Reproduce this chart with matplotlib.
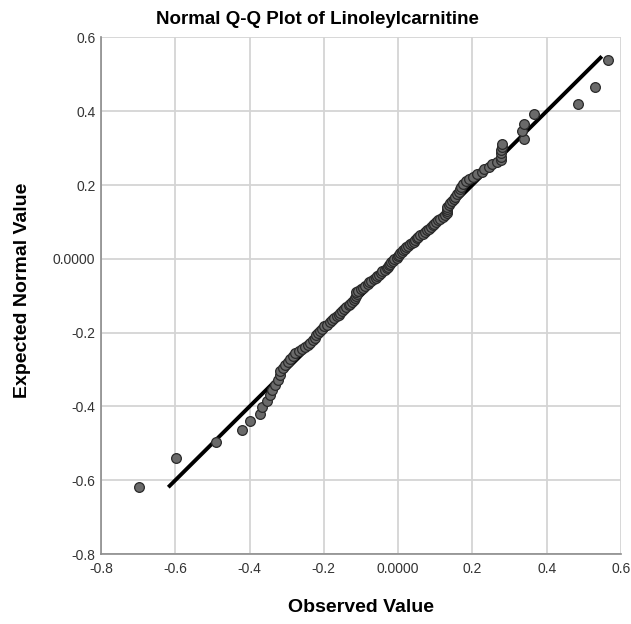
import matplotlib
matplotlib.use('Agg')
import matplotlib.pyplot as plt
import numpy as np

plt.rcParams.update({
    'font.family': ['Liberation Sans', 'DejaVu Sans'],
    'font.size': 10,
})

observed = [
    -0.697, -0.597, -0.489, -0.419, -0.398, -0.371, -0.367, -0.352, -0.346, -0.340,
    -0.331, -0.322, -0.318, -0.317, -0.309, -0.304, -0.296, -0.290, -0.283, -0.277,
    -0.268, -0.260, -0.250, -0.243, -0.236, -0.229, -0.223, -0.220, -0.215, -0.210,
    -0.205, -0.199, -0.192, -0.183, -0.178, -0.172, -0.165, -0.160, -0.156, -0.150,
    -0.146, -0.140, -0.133, -0.129, -0.125, -0.120, -0.115, -0.113, -0.111, -0.113,
    -0.108, -0.100, -0.094, -0.088, -0.082, -0.078, -0.072, -0.066, -0.060, -0.057,
    -0.052, -0.047, -0.042, -0.036, -0.030, -0.028, -0.024, -0.021, -0.018, -0.014,
    -0.010, -0.004, -0.001, 0.003, 0.006, 0.010, 0.013, 0.018, 0.022, 0.028,
    0.033, 0.038, 0.042, 0.045, 0.050, 0.055, 0.060, 0.066, 0.072, 0.078,
    0.083, 0.088, 0.093, 0.097, 0.103, 0.108, 0.114, 0.120, 0.127, 0.131,
    0.133, 0.132, 0.133, 0.136, 0.140, 0.145, 0.150, 0.154, 0.158, 0.163,
    0.167, 0.170, 0.175, 0.183, 0.192, 0.203, 0.212, 0.225, 0.231, 0.245,
    0.254, 0.266, 0.276, 0.276, 0.276, 0.276, 0.280, 0.280, 0.339, 0.334,
    0.339, 0.366, 0.484, 0.529, 0.565,
]
expected = [
    -0.618, -0.539, -0.495, -0.465, -0.440, -0.420, -0.401, -0.385, -0.369, -0.355,
    -0.341, -0.328, -0.316, -0.305, -0.296, -0.287, -0.279, -0.272, -0.264, -0.256,
    -0.250, -0.245, -0.240, -0.234, -0.227, -0.221, -0.214, -0.207, -0.201, -0.195,
    -0.189, -0.183, -0.178, -0.172, -0.166, -0.161, -0.156, -0.151, -0.146, -0.141,
    -0.136, -0.131, -0.126, -0.121, -0.116, -0.111, -0.106, -0.101, -0.096, -0.091,
    -0.087, -0.082, -0.078, -0.073, -0.069, -0.064, -0.060, -0.055, -0.051, -0.047,
    -0.043, -0.038, -0.034, -0.030, -0.026, -0.022, -0.017, -0.013, -0.009, -0.005,
    -0.001, 0.003, 0.007, 0.011, 0.015, 0.019, 0.023, 0.027, 0.031, 0.035,
    0.039, 0.043, 0.047, 0.052, 0.056, 0.060, 0.064, 0.068, 0.073, 0.077,
    0.082, 0.086, 0.091, 0.095, 0.100, 0.104, 0.109, 0.114, 0.119, 0.124,
    0.129, 0.134, 0.140, 0.145, 0.151, 0.157, 0.163, 0.169, 0.175, 0.182,
    0.189, 0.196, 0.203, 0.210, 0.216, 0.222, 0.229, 0.236, 0.243, 0.250,
    0.256, 0.262, 0.268, 0.277, 0.286, 0.295, 0.304, 0.312, 0.326, 0.346,
    0.366, 0.392, 0.421, 0.466, 0.540,
]
line_ends = [-0.615, 0.545]

ticks = [-0.8, -0.6, -0.4, -0.2, 0.0, 0.2, 0.4, 0.6]
tick_labels = ['-0.8', '-0.6', '-0.4', '-0.2', '0.0000', '0.2', '0.4', '0.6']

fig = plt.figure(figsize=(6.31, 6.24), dpi=100)
ax = fig.add_axes([0.160, 0.112, 0.824, 0.828])

ax.plot(line_ends, line_ends, color='black', linewidth=2.8, zorder=2)
ax.plot(observed, expected, linestyle='none', marker='o', markersize=7,
        markerfacecolor='#6a6a6a', markeredgecolor='#2a2a2a', markeredgewidth=0.9,
        zorder=3)

ax.set_xlim(-0.8, 0.6)
ax.set_ylim(-0.8, 0.6)
ax.set_xticks(ticks)
ax.set_xticklabels(tick_labels)
ax.set_yticks(ticks)
ax.set_yticklabels(tick_labels)
ax.tick_params(length=0, labelsize=10, labelcolor='#333333')
ax.tick_params(axis='x', pad=6)
ax.tick_params(axis='y', pad=4)
ax.grid(True, color='#d4d4d4', linewidth=1.3)
ax.set_axisbelow(True)
for s in ['top', 'right']:
    ax.spines[s].set_visible(False)
for s in ['left', 'bottom']:
    ax.spines[s].set_color('#8c8c8c')
    ax.spines[s].set_linewidth(1.2)

fig.text(0.503, 0.968, 'Normal Q-Q Plot of Linoleylcarnitine', ha='center', va='center',
         fontsize=13.5, fontweight='bold')
fig.text(0.572, 0.027, 'Observed Value', ha='center', va='center',
         fontsize=14, fontweight='bold')
fig.text(0.035, 0.535, 'Expected Normal Value', ha='center', va='center',
         rotation=90, fontsize=14, fontweight='bold')

plt.savefig('out.png', dpi=100)
